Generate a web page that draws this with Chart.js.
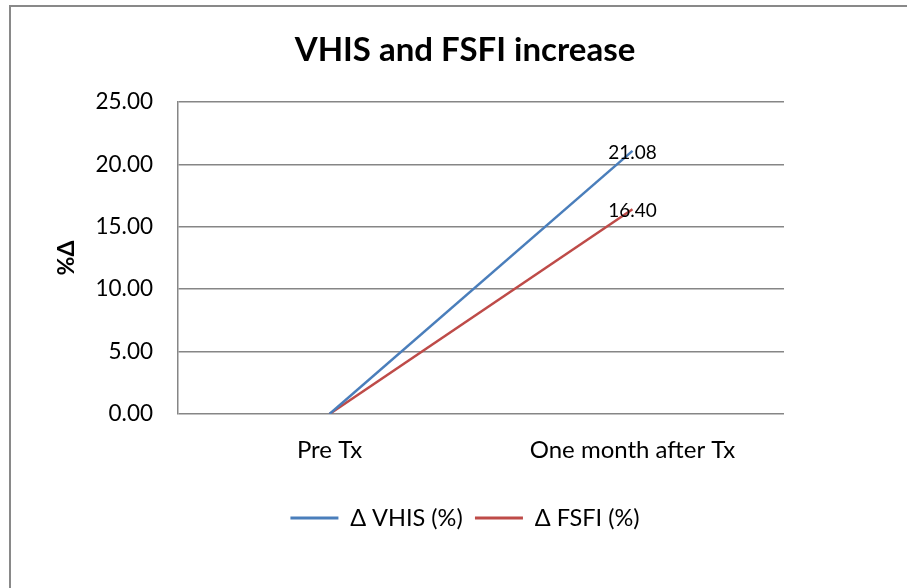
<!DOCTYPE html>
<html>
<head>
<meta charset="utf-8">
<script src="https://cdn.jsdelivr.net/npm/chart.js@4"></script>
<style>
  html, body { margin: 0; padding: 0; background: #fff; overflow: hidden; }
  #wrap { position: absolute; left: 0; top: 0; width: 920px; height: 600px; }
</style>
</head>
<body>
<div id="wrap"><canvas id="c" width="920" height="600"></canvas></div>
<script>
const categories = ["Pre Tx", "One month after Tx"];
const vhisValues = [0, 21.08];
const fsfiValues = [0, 16.40];
const seriesNames = ["\u0394 VHIS (%)", "\u0394 FSFI (%)"];
const yTicks = [0, 5, 10, 15, 20, 25];
const chartTitle = "VHIS and FSFI increase";
const yTitle = "%\u0394";

const FONT = "Lato";
const GRID = "#868686";

const framePlugin = {
  id: "frame",
  beforeDraw(chart) {
    const ctx = chart.ctx;
    ctx.save();
    ctx.fillStyle = "#fff";
    ctx.fillRect(0, 0, chart.width, chart.height);
    ctx.strokeStyle = "#898989";
    ctx.lineWidth = 2;
    ctx.strokeRect(10, 6, chart.width - 14, chart.height - 8);
    ctx.restore();
  }
};

const labelPlugin = {
  id: "lastLabels",
  afterDatasetsDraw(chart) {
    const ctx = chart.ctx;
    ctx.save();
    ctx.font = "19px " + FONT;
    ctx.fillStyle = "#000";
    ctx.textAlign = "center";
    ctx.textBaseline = "middle";
    chart.data.datasets.forEach((ds, i) => {
      const meta = chart.getDatasetMeta(i);
      const last = ds.data.length - 1;
      const pt = meta.data[last];
      ctx.fillText(ds.data[last].toFixed(2), pt.x, pt.y + 1.5);
    });
    ctx.restore();
  }
};

new Chart(document.getElementById("c"), {
  type: "line",
  data: {
    labels: categories,
    datasets: [
      { label: seriesNames[0], data: vhisValues, borderColor: "#4A7EBB", backgroundColor: "#4A7EBB", borderWidth: 2.5, pointRadius: 0, tension: 0 },
      { label: seriesNames[1], data: fsfiValues, borderColor: "#BE4B48", backgroundColor: "#BE4B48", borderWidth: 2.5, pointRadius: 0, tension: 0 }
    ]
  },
  options: {
    responsive: false,
    animation: false,
    devicePixelRatio: 1,
    layout: { padding: { left: 10, right: 0, top: 6, bottom: 60.25 } },
    plugins: {
      title: {
        display: true,
        text: chartTitle,
        color: "#000",
        font: { family: FONT, size: 33, weight: "bold", lineHeight: 1.2 },
        padding: { top: 24.2, bottom: 32.2 }
      },
      legend: {
        position: "bottom",
        labels: {
          color: "#000",
          font: { family: FONT, size: 23.5 },
          boxWidth: 48,
          boxHeight: 3,
          padding: 12.25,
          generateLabels(chart) {
            const items = Chart.defaults.plugins.legend.labels.generateLabels(chart);
            items.forEach(it => { it.lineWidth = 0; it.strokeStyle = "rgba(0,0,0,0)"; });
            return items;
          }
        }
      },
      tooltip: { enabled: false }
    },
    scales: {
      x: {
        offset: true,
        grid: { display: false, drawTicks: false },
        border: { display: false },
        ticks: { color: "#000", font: { family: FONT, size: 24 }, padding: 21.6, maxRotation: 0 },
        afterFit(s) { s.height = 80; }
      },
      y: {
        min: yTicks[0],
        max: yTicks[yTicks.length - 1],
        afterBuildTicks(s) { s.ticks = yTicks.map(v => ({ value: v })); },
        grid: { color: GRID, lineWidth: 1.5, drawTicks: false },
        border: { display: true, color: GRID, width: 1.5 },
        ticks: { color: "#000", font: { family: FONT, size: 22.5 }, padding: 25, callback: v => Number(v).toFixed(2) },
        title: { display: true, text: yTitle, color: "#000", font: { family: FONT, size: 23, weight: "bold", lineHeight: 1.2 }, padding: { top: 43.2, bottom: 0 } },
        afterFit(s) { s.width = 168; }
      },
      y2: {
        position: "right",
        display: true,
        grid: { display: false, drawTicks: false },
        border: { display: false },
        ticks: { display: false },
        afterFit(s) { s.width = 136; }
      }
    }
  },
  plugins: [framePlugin, labelPlugin]
});
</script>
</body>
</html>
